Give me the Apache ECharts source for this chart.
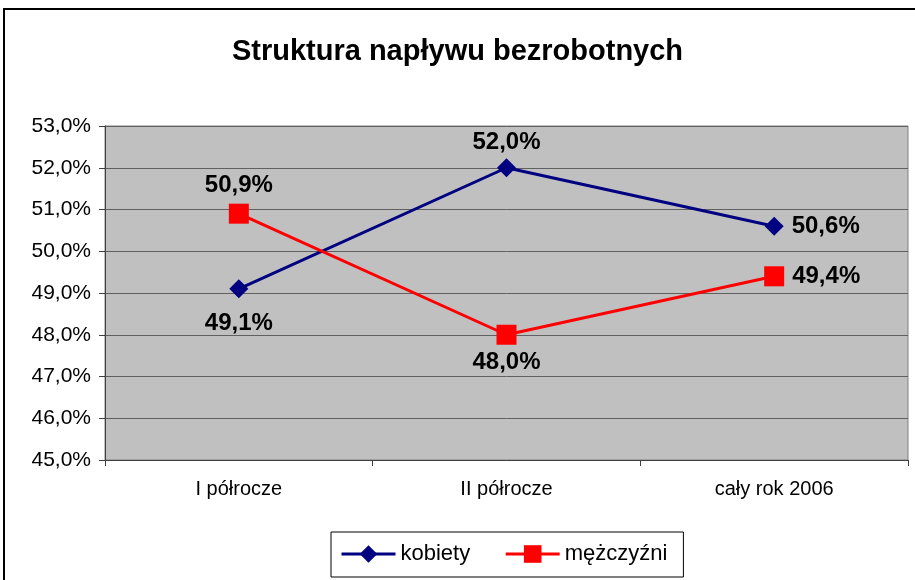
<!DOCTYPE html>
<html lang="pl">
<head>
    <meta charset="UTF-8">
    <title>Struktura napływu bezrobotnych</title>
    <script src="https://cdn.jsdelivr.net/npm/echarts@6/dist/echarts.min.js"></script>
    <style>
        html, body { margin: 0; padding: 0; background: #fff; }
        #chart { width: 915px; height: 580px; }
    </style>
</head>
<body>
<div id="chart"></div>
<script>
    // dane
    var categories = ['I półrocze', 'II półrocze', 'cały rok 2006'];
    var kobiety = [49.1, 52.0, 50.6];
    var mezczyzni = [50.9, 48.0, 49.4];
    var yMin = 45, yMax = 53, yStep = 1;

    // gdzie stoją etykiety danych
    var kobietyPos = ['bottom', 'top', 'right'];
    var kobietyDist = [13, 4, 8];
    var mezczyzniPos = ['top', 'bottom', 'right'];
    var mezczyzniDist = [6, 6, 8];

    function pct(v) {
        return v.toFixed(1).replace('.', ',') + '%';
    }

    function points(values, positions, dists) {
        var out = [];
        for (var i = 0; i < values.length; i++) {
            out.push({
                value: values[i],
                label: { position: positions[i], distance: dists[i] }
            });
        }
        return out;
    }

    var font = 'Arial, "Liberation Sans", sans-serif';
    var chart = echarts.init(document.getElementById('chart'));

    var dataLabel = {
        show: true,
        fontSize: 24,
        fontWeight: 'bold',
        color: '#000',
        fontFamily: font,
        formatter: function (p) { return pct(p.value); }
    };

    chart.setOption({
        animation: false,
        backgroundColor: '#fff',
        textStyle: { fontFamily: font },
        title: {
            text: 'Struktura napływu bezrobotnych',
            left: 'center',
            top: 32,
            textStyle: { fontSize: 29, fontWeight: 'bold', color: '#000', fontFamily: font }
        },
        graphic: [{
            type: 'rect',
            shape: { x: 4, y: 9, width: 1000, height: 1000 },
            style: { fill: 'none', stroke: '#000', lineWidth: 2 },
            silent: true
        }],
        legend: {
            data: ['kobiety', 'mężczyźni'],
            left: 331,
            top: 532,
            padding: [11, 16, 12, 9],
            itemGap: 34,
            itemWidth: 54,
            itemHeight: 22,
            borderColor: '#000',
            borderWidth: 1,
            backgroundColor: '#fff',
            lineStyle: { width: 3 },
            textStyle: { fontSize: 22, color: '#000', fontFamily: font }
        },
        grid: {
            left: 105,
            right: 7,
            top: 126,
            bottom: 120,
            show: true,
            backgroundColor: '#c0c0c0',
            borderColor: '#808080',
            borderWidth: 1,
            containLabel: false
        },
        xAxis: {
            type: 'category',
            data: categories,
            boundaryGap: true,
            axisLine: { lineStyle: { color: '#404040', width: 1 } },
            axisTick: { show: true, length: 6, lineStyle: { color: '#404040' } },
            axisLabel: { color: '#000', fontSize: 20, margin: 19, fontFamily: font }
        },
        yAxis: {
            type: 'value',
            min: yMin,
            max: yMax,
            interval: yStep,
            axisLine: { show: true, lineStyle: { color: '#404040', width: 1 } },
            axisTick: { show: true, length: 6, lineStyle: { color: '#404040' } },
            axisLabel: { color: '#000', fontSize: 21, margin: 14, fontFamily: font, formatter: pct },
            splitLine: { show: true, lineStyle: { color: '#606060', width: 1 } }
        },
        series: [
            {
                name: 'kobiety',
                type: 'line',
                data: points(kobiety, kobietyPos, kobietyDist),
                symbol: 'diamond',
                symbolSize: 19,
                color: '#000080',
                lineStyle: { color: '#000080', width: 3 },
                itemStyle: { color: '#000080' },
                label: dataLabel
            },
            {
                name: 'mężczyźni',
                type: 'line',
                data: points(mezczyzni, mezczyzniPos, mezczyzniDist),
                symbol: 'rect',
                symbolSize: 20,
                color: '#ff0000',
                lineStyle: { color: '#ff0000', width: 3 },
                itemStyle: { color: '#ff0000' },
                label: dataLabel
            }
        ]
    });
</script>
</body>
</html>
